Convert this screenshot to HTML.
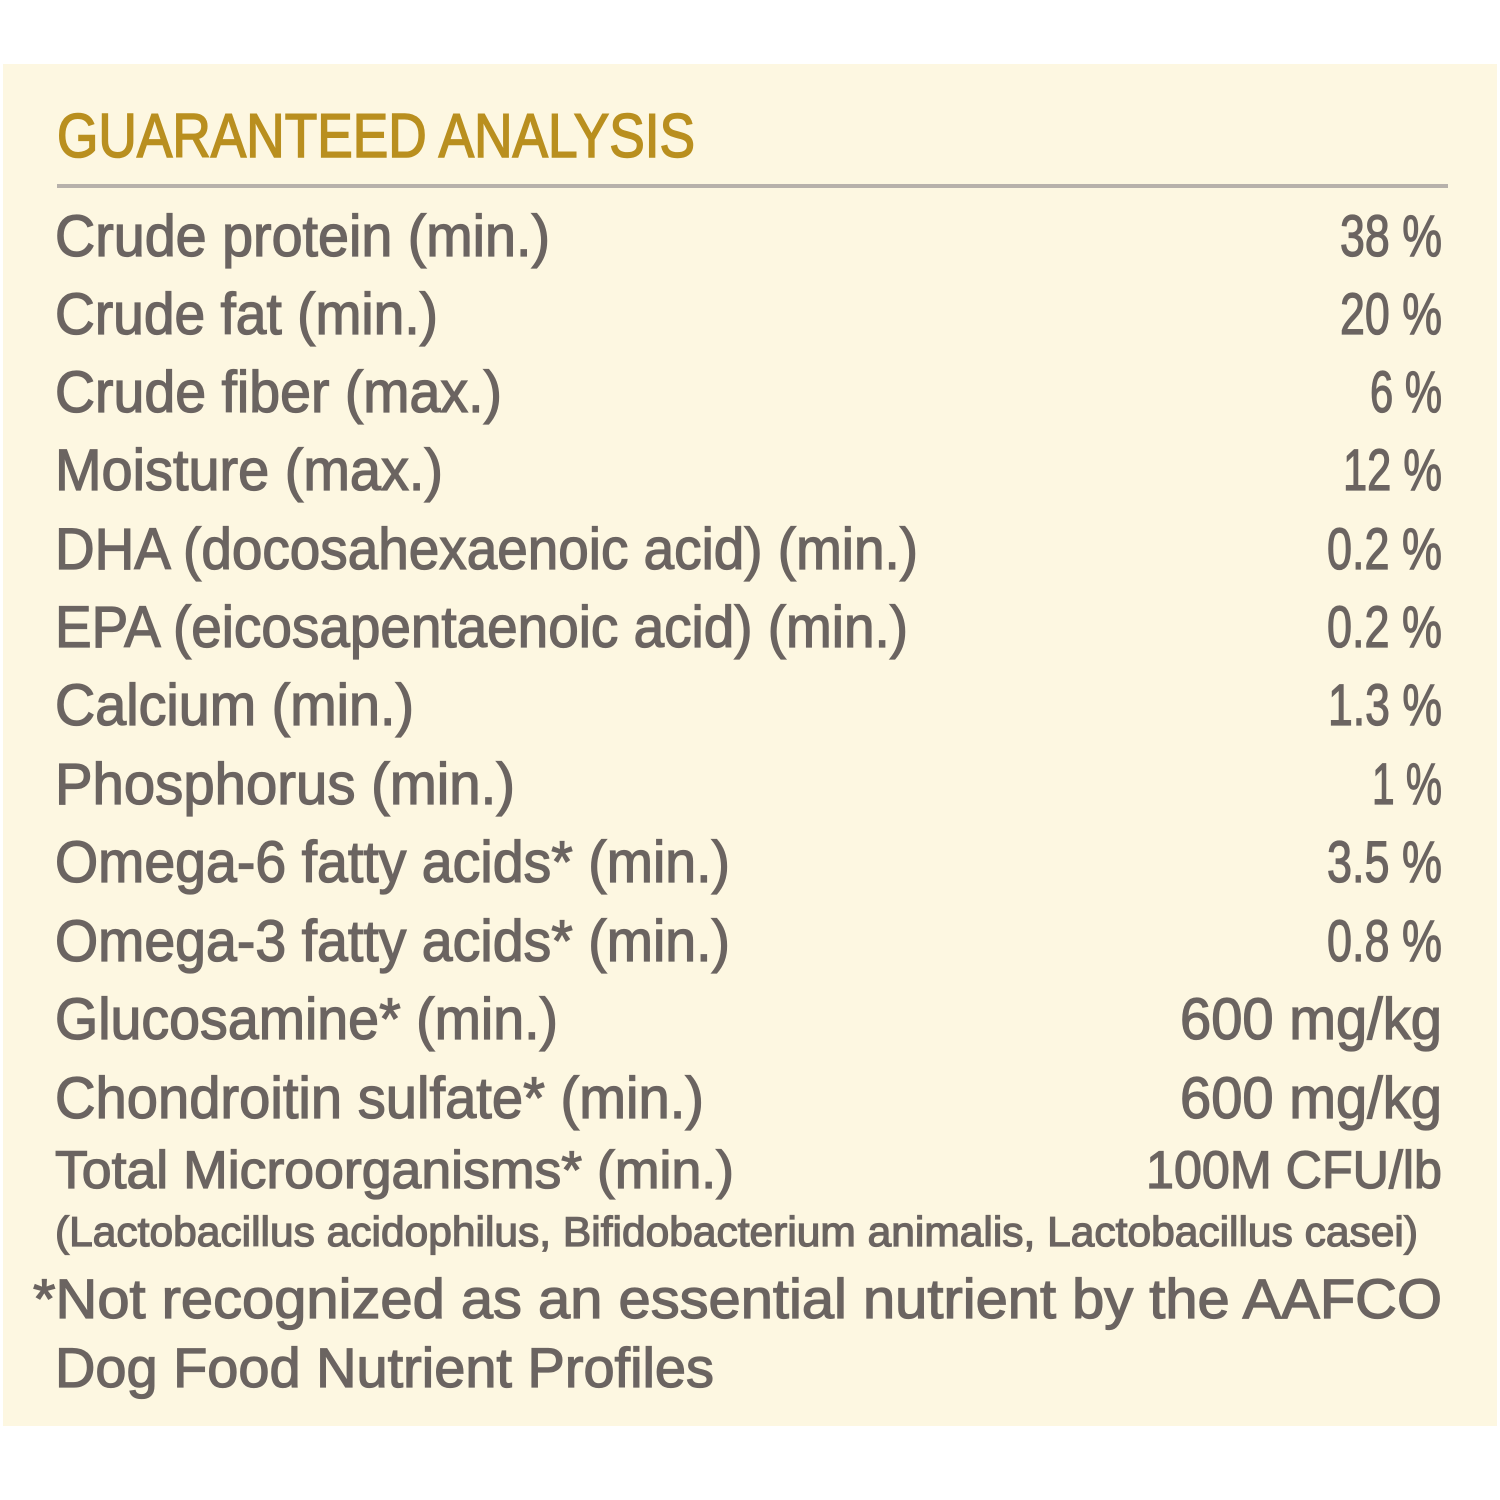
<!DOCTYPE html>
<html><head><meta charset="utf-8"><style>
html,body{margin:0;padding:0;background:#fff;}
svg{display:block;}
text{font-family:"Liberation Sans",sans-serif;fill:#6b6461;stroke:#6b6461;stroke-width:1.3px;}
</style></head><body>
<svg width="1500" height="1500" viewBox="0 0 1500 1500" xmlns="http://www.w3.org/2000/svg">
<rect x="0" y="0" width="1500" height="1500" fill="#fff"/>
<rect x="3" y="64" width="1494" height="1362" fill="#fdf7e1"/>
<text x="57" y="157" font-size="62" textLength="638" lengthAdjust="spacingAndGlyphs" style="fill:#b98f1f;stroke:#b98f1f;stroke-width:1.6px">GUARANTEED ANALYSIS</text>
<rect x="57" y="184" width="1391" height="4" fill="#b7b1ab"/>
<g font-size="58">
<text x="55" y="256" textLength="495" lengthAdjust="spacingAndGlyphs">Crude protein (min.)</text>
<text x="55" y="334" textLength="383" lengthAdjust="spacingAndGlyphs">Crude fat (min.)</text>
<text x="55" y="412" textLength="447" lengthAdjust="spacingAndGlyphs">Crude fiber (max.)</text>
<text x="55" y="490" textLength="388" lengthAdjust="spacingAndGlyphs">Moisture (max.)</text>
<text x="55" y="569" textLength="863" lengthAdjust="spacingAndGlyphs">DHA (docosahexaenoic acid) (min.)</text>
<text x="55" y="647" textLength="853" lengthAdjust="spacingAndGlyphs">EPA (eicosapentaenoic acid) (min.)</text>
<text x="55" y="725" textLength="359" lengthAdjust="spacingAndGlyphs">Calcium (min.)</text>
<text x="55" y="804" textLength="460" lengthAdjust="spacingAndGlyphs">Phosphorus (min.)</text>
<text x="55" y="882" textLength="675" lengthAdjust="spacingAndGlyphs">Omega-6 fatty acids* (min.)</text>
<text x="55" y="961" textLength="675" lengthAdjust="spacingAndGlyphs">Omega-3 fatty acids* (min.)</text>
<text x="55" y="1039" textLength="503" lengthAdjust="spacingAndGlyphs">Glucosamine* (min.)</text>
<text x="55" y="1118" textLength="649" lengthAdjust="spacingAndGlyphs">Chondroitin sulfate* (min.)</text>

<text x="1340" y="256" textLength="102" lengthAdjust="spacingAndGlyphs">38 %</text>
<text x="1340" y="334" textLength="102" lengthAdjust="spacingAndGlyphs">20 %</text>
<text x="1370" y="412" textLength="72" lengthAdjust="spacingAndGlyphs">6 %</text>
<text x="1343" y="490" textLength="99" lengthAdjust="spacingAndGlyphs">12 %</text>
<text x="1327" y="569" textLength="115" lengthAdjust="spacingAndGlyphs">0.2 %</text>
<text x="1327" y="647" textLength="115" lengthAdjust="spacingAndGlyphs">0.2 %</text>
<text x="1328" y="725" textLength="114" lengthAdjust="spacingAndGlyphs">1.3 %</text>
<text x="1372" y="804" textLength="70" lengthAdjust="spacingAndGlyphs">1 %</text>
<text x="1327" y="882" textLength="115" lengthAdjust="spacingAndGlyphs">3.5 %</text>
<text x="1327" y="961" textLength="115" lengthAdjust="spacingAndGlyphs">0.8 %</text>
<text x="1180" y="1039" textLength="262" lengthAdjust="spacingAndGlyphs">600 mg/kg</text>
<text x="1180" y="1118" textLength="262" lengthAdjust="spacingAndGlyphs">600 mg/kg</text>
</g>
<text x="55" y="1188" font-size="53" textLength="679" lengthAdjust="spacingAndGlyphs">Total Microorganisms* (min.)</text>
<text x="1146" y="1188" font-size="53" textLength="296" lengthAdjust="spacingAndGlyphs">100M CFU/lb</text>
<text x="55" y="1246" font-size="42" textLength="1363" lengthAdjust="spacingAndGlyphs">(Lactobacillus acidophilus, Bifidobacterium animalis, Lactobacillus casei)</text>
<text x="33" y="1318" font-size="56" textLength="1409" lengthAdjust="spacingAndGlyphs">*Not recognized as an essential nutrient by the AAFCO</text>
<text x="55" y="1387" font-size="56" textLength="659" lengthAdjust="spacingAndGlyphs">Dog Food Nutrient Profiles</text>
</svg>
</body></html>
